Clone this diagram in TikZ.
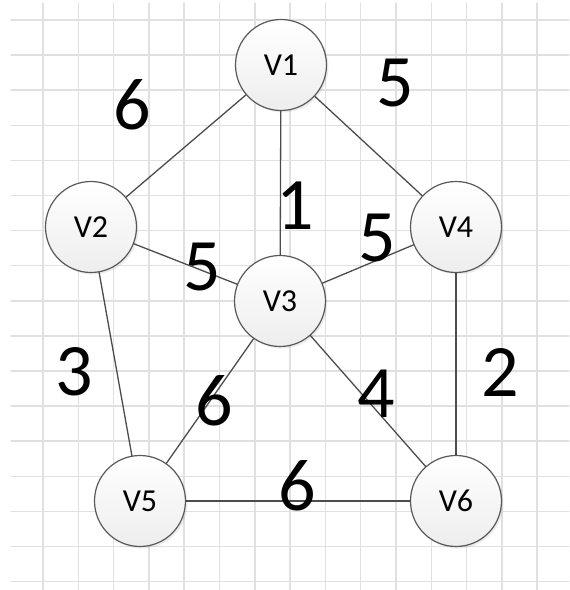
\documentclass[tikz,border=0pt]{standalone}
\usepackage{fontspec}
\setmainfont{Carlito}
\usetikzlibrary{shadows}
\begin{document}
\begin{tikzpicture}[x=0.5pt,y=-0.5pt,line join=round,line cap=round,
	vert/.style={circle,draw=black!65,line width=0.6pt,minimum size=45.5pt,inner sep=0pt,
		top color=white,bottom color=black!7,
		drop shadow={opacity=0.15,shadow xshift=1pt,shadow yshift=-1pt},
		font=\fontsize{16}{16}\selectfont},
	wt/.style={inner sep=0pt,font=\fontsize{37}{37}\selectfont},
	edge/.style={draw=black!70,line width=0.65pt},
	gridline/.style={draw=black!12,line width=0.75pt}]
	\useasboundingbox (0,0) rectangle (569,590);
	% background grid
	\foreach \k in {0,...,16}
	\draw[gridline] (11,{20+35.1*\k}) -- (569,{20+35.1*\k});
	\foreach \k in {0,...,14}
	\draw[gridline] ({43+35.3*\k},3) -- ({43+35.3*\k},590);
	% vertices
	\foreach \p/\x/\y in {V1/281/65,V2/91/227,V3/280/301,V4/456/227,V5/140/501,V6/456/501}
	\node[vert] (\p) at (\x,\y) {\p};
	% edges
	\foreach \a/\b in {V1/V2,V1/V3,V1/V4,V2/V3,V2/V5,V3/V4,V3/V5,V3/V6,V4/V6,V5/V6}
	\draw[edge] (\a)--(\b);
	% weights
	\foreach \t/\x/\y [count=\i] in {6/132/105,5/395/83,1/295/206,5/377/238,5/202/267,
		3/74/372,6/214/401,4/376/394,2/500/372,6/297/486}
	\node[wt] (w\i) at (\x,\y) {\t};
\end{tikzpicture}
\end{document}
